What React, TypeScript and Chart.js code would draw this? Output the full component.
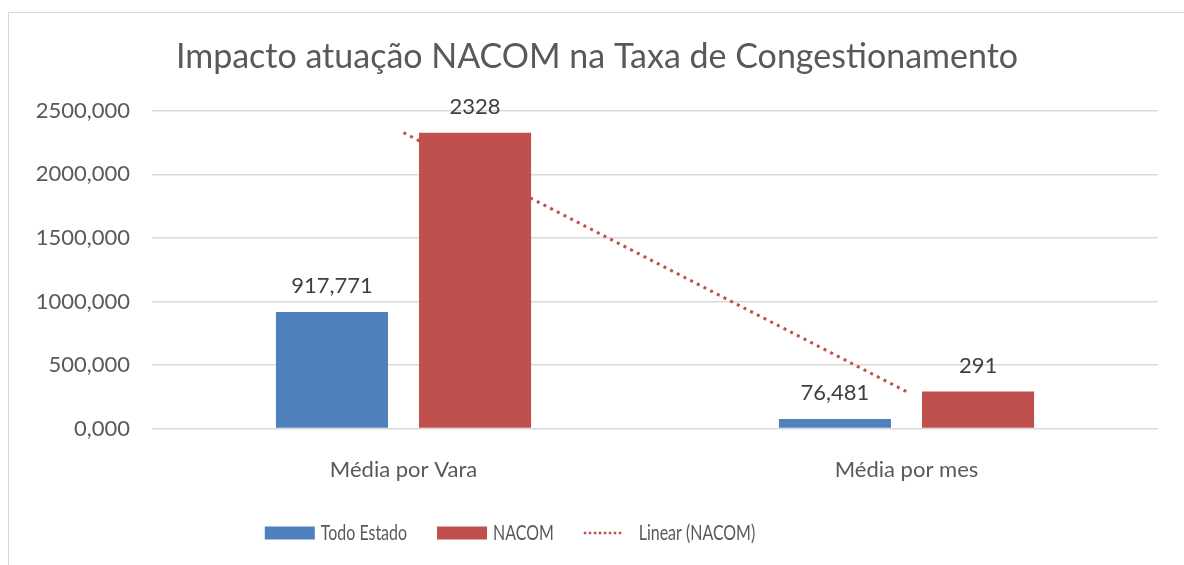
import React, { useEffect, useRef } from "react";
import { Chart, registerables } from "chart.js";

Chart.register(...registerables);

const categories = ["Média por Vara", "Média por mes"];
const todoEstado = [917.771, 76.481];
const nacom = [2328, 291];
const todoEstadoLabels = ["917,771", "76,481"];
const nacomLabels = ["2328", "291"];
const yTicks = [0, 500, 1000, 1500, 2000, 2500];
const legendNames = ["Todo Estado", "NACOM", "Linear (NACOM)"];

const BLUE = "#4f81bd";
const RED = "#c0504d";
const FONT = "Lato, 'Open Sans', sans-serif";

const valueLabels = {
  id: "valueLabels",
  afterDatasetsDraw(chart: any) {
    const ctx = chart.ctx;
    const sets = [todoEstadoLabels, nacomLabels];
    ctx.save();
    ctx.font = `22px ${FONT}`;
    ctx.fillStyle = "#404040";
    ctx.textAlign = "center";
    ctx.textBaseline = "middle";
    sets.forEach((labels, di) => {
      const meta = chart.getDatasetMeta(di);
      meta.data.forEach((el: any, i: number) => {
        ctx.fillText(labels[i], el.x, el.y - 26);
      });
    });
    ctx.restore();
  },
};

const customLegend = {
  id: "customLegend",
  afterDraw(chart: any) {
    const ctx = chart.ctx;
    const sx = 0.76;
    const fontSize = 21;
    ctx.save();
    ctx.font = `${fontSize}px ${FONT}`;
    const widths = legendNames.map((t) => ctx.measureText(t).width * sx);
    const swatch = [50, 50, 38];
    const gapText = [6, 6, 17];
    const itemGap = 30;
    const itemW = widths.map((w, i) => swatch[i] + gapText[i] + w);
    const total = itemW.reduce((a, b) => a + b, 0) + itemGap * 2;
    let x = (chart.width - total) / 2 - 82;
    const y = 533;
    const colors = [BLUE, RED, RED];
    legendNames.forEach((name, i) => {
      if (i < 2) {
        ctx.fillStyle = colors[i];
        ctx.fillRect(x, y - 6.5, swatch[i], 13);
      } else {
        ctx.strokeStyle = colors[i];
        ctx.lineWidth = 2.5;
        ctx.setLineDash([2.5, 2.5]);
        ctx.beginPath();
        ctx.moveTo(x, y);
        ctx.lineTo(x + swatch[i], y);
        ctx.stroke();
        ctx.setLineDash([]);
      }
      const tx = x + swatch[i] + gapText[i];
      ctx.save();
      ctx.translate(tx, y);
      ctx.scale(sx, 1);
      ctx.fillStyle = "#595959";
      ctx.textAlign = "left";
      ctx.textBaseline = "middle";
      ctx.fillText(name, 0, 0);
      ctx.restore();
      x += itemW[i] + itemGap;
    });
    ctx.restore();
  },
};

export default function App() {
  const ref = useRef<HTMLCanvasElement | null>(null);
  useEffect(() => {
    if (!ref.current) return;
    const chart = new Chart(ref.current, {
      type: "bar",
      data: {
        labels: categories,
        datasets: [
          {
            label: "Todo Estado",
            data: todoEstado,
            backgroundColor: BLUE,
            categoryPercentage: 0.569,
            barPercentage: 0.783,
            order: 2,
          },
          {
            label: "NACOM",
            data: nacom,
            backgroundColor: RED,
            categoryPercentage: 0.569,
            barPercentage: 0.783,
            order: 2,
          },
          {
            type: "line",
            label: "Linear (NACOM)",
            data: nacom,
            borderColor: RED,
            borderWidth: 3,
            borderDash: [3, 4.5],
            pointRadius: 0,
            fill: false,
            order: 1,
          } as any,
        ],
      },
      options: {
        responsive: false,
        animation: false,
        layout: { padding: { left: 36, right: 26, top: 0, bottom: 54 } },
        plugins: {
          tooltip: { enabled: false },
          legend: { display: false },
          title: {
            display: true,
            text: "Impacto atuação NACOM na Taxa de Congestionamento",
            color: "#595959",
            font: { family: FONT, size: 34, weight: "normal" },
            padding: { top: 37, bottom: 33 },
          },
        },
        scales: {
          x: {
            grid: { display: false, drawTicks: false },
            border: { display: false },
            ticks: {
              color: "#595959",
              font: { family: FONT, size: 22 },
              padding: 28,
            },
          },
          y: {
            min: 0,
            max: 2500,
            afterFit: (s: any) => {
              s.width = 116;
            },
            afterBuildTicks: (s: any) => {
              s.ticks = yTicks.map((v) => ({ value: v }));
            },
            grid: { color: "#d9d9d9", drawTicks: false, lineWidth: 1.5 },
            border: { display: false },
            ticks: {
              color: "#595959",
              font: { family: FONT, size: 22 },
              padding: 22,
              callback: (v: any) => Number(v).toFixed(3).replace(".", ","),
            },
          },
        },
      },
      plugins: [valueLabels, customLegend],
    });
    return () => chart.destroy();
  }, []);
  return (
    <>
      <div
        style={{
          position: "fixed",
          left: 8,
          top: 12,
          right: 0,
          bottom: 0,
          borderLeft: "1.5px solid #d9d9d9",
          borderTop: "1.5px solid #d9d9d9",
        }}
      />
      <canvas
        ref={ref}
        width={1184}
        height={565}
        style={{ position: "fixed", left: 0, top: 0, width: 1184, height: 565 }}
      />
    </>
  );
}
